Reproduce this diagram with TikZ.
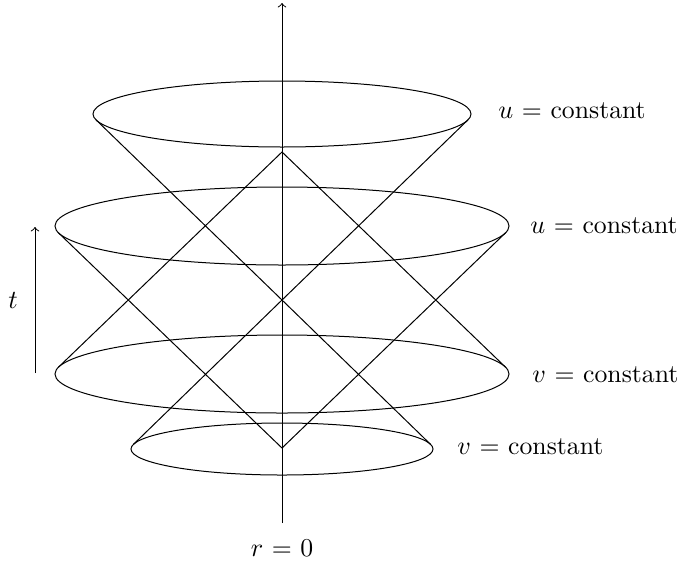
\documentclass[tikz,border=0pt]{standalone}
\begin{document}
\begin{tikzpicture}[x=0.42pt,y=-0.42pt,
  lbl/.style={anchor=west,inner sep=0pt,font=\fontsize{10.8}{13}\selectfont},
  cone/.style={line width=0.42pt},
  ell/.style={line width=0.42pt}]
\useasboundingbox (0,0) rectangle (678,560);
% axis
\coordinate (axtop) at (282,3);
\coordinate (axbot) at (282,523);
\draw[->,line width=0.42pt] (axbot) -- (axtop);
% ellipses
\draw[ell] (282,114) ellipse [x radius=189, y radius=33];
\draw[ell] (282,226) ellipse [x radius=227, y radius=39];
\draw[ell] (282,374) ellipse [x radius=227, y radius=39];
\draw[ell] (282,449) ellipse [x radius=151, y radius=26];
% apexes
\coordinate (apmid) at (282,300);
\coordinate (aptop) at (282,152);
\coordinate (apbot) at (282,448);
% tangent points
\coordinate (e1l) at (96.0,119.85);
\coordinate (e1r) at (468.0,119.85);
\coordinate (e4l) at (133.3,444.5);
\coordinate (e4r) at (430.7,444.5);
\coordinate (e2l) at (58.5,232.85);
\coordinate (e2r) at (505.5,232.85);
\coordinate (e3l) at (58.5,367.15);
\coordinate (e3r) at (505.5,367.15);
% cone lines
\draw[cone] (e1l) -- (apmid) -- (e4r);
\draw[cone] (e1r) -- (apmid) -- (e4l);
\draw[cone] (e3l) -- (aptop) -- (e3r);
\draw[cone] (e2l) -- (apbot) -- (e2r);
% labels
\node[lbl] (l1) at (498,111) {$u$ = constant};
\node[lbl] (l2) at (530,226) {$u$ = constant};
\node[lbl] (l3) at (532,375) {$v$ = constant};
\node[lbl] (l4) at (457,447) {$v$ = constant};
\node[font=\fontsize{10.8}{13}\selectfont,inner sep=0pt] (r0) at (282,548) {$r$ = 0};
% time arrow
\coordinate (tb) at (35,373);
\coordinate (tt) at (35,227);
\draw[->,line width=0.42pt] (tb) -- (tt);
\node[font=\fontsize{10.8}{13}\selectfont,inner sep=0pt] (tl) at (13,300) {$t$};
\end{tikzpicture}
\end{document}
